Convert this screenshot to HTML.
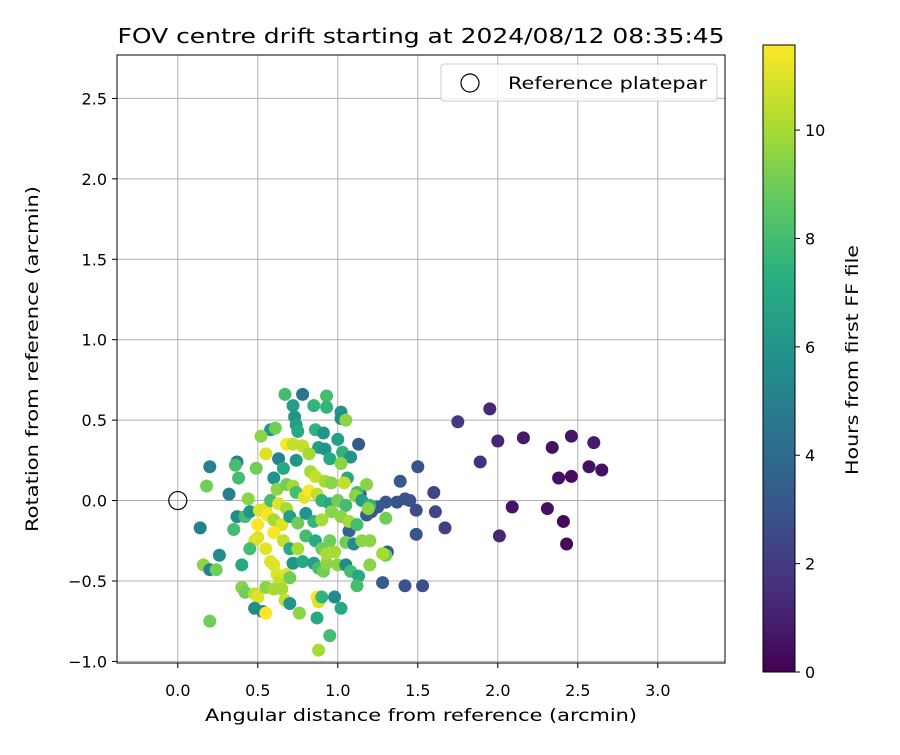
<!DOCTYPE html>
<html><head><meta charset="utf-8"><style>
html,body{margin:0;padding:0;background:#fff;}
svg text{font-family:"DejaVu Sans","Liberation Sans",sans-serif;fill:#000;}
</style></head><body>
<svg id="chart" width="900" height="750" xmlns="http://www.w3.org/2000/svg">
<defs>
<linearGradient id="vir" x1="0" y1="1" x2="0" y2="0">
<stop offset="0" stop-color="#440154"/><stop offset="0.125" stop-color="#472d7b"/><stop offset="0.25" stop-color="#3b528b"/><stop offset="0.375" stop-color="#2c728e"/><stop offset="0.5" stop-color="#21918c"/><stop offset="0.625" stop-color="#28ae80"/><stop offset="0.75" stop-color="#5ec962"/><stop offset="0.875" stop-color="#addc30"/><stop offset="1" stop-color="#fde725"/>
</linearGradient>
<clipPath id="clip"><rect x="117" y="55" width="608" height="608"/></clipPath>
</defs>
<text x="421" y="43" font-size="20" text-anchor="middle" textLength="607" lengthAdjust="spacingAndGlyphs">FOV centre drift starting at 2024/08/12 08:35:45</text>
<g id="grid"></g>
<g id="points" clip-path="url(#clip)"></g>
<rect x="117" y="55" width="608" height="608" fill="none" stroke="#000" stroke-width="1"/>
<g id="ticks"></g>
<text x="421" y="721" font-size="17" text-anchor="middle" textLength="432" lengthAdjust="spacingAndGlyphs">Angular distance from reference (arcmin)</text>
<text transform="translate(38,359) rotate(-90)" font-size="17" text-anchor="middle" textLength="346" lengthAdjust="spacingAndGlyphs">Rotation from reference (arcmin)</text>
<g>
<rect x="441" y="64" width="276" height="37" rx="3" fill="#fff" fill-opacity="0.8" stroke="#ccc"/>
<circle cx="470" cy="83" r="9" fill="none" stroke="#000" stroke-width="1.2"/>
<text x="508" y="89" font-size="17" textLength="199" lengthAdjust="spacingAndGlyphs">Reference platepar</text>
</g>
<rect x="763" y="45" width="32" height="627" fill="url(#vir)" stroke="#000" stroke-width="1"/>
<g id="cbticks"></g>
<text transform="translate(858,360) rotate(-90)" font-size="17" text-anchor="middle" textLength="230" lengthAdjust="spacingAndGlyphs">Hours from first FF file</text>
</svg>
<script>
const xTicks=[0.0,0.5,1.0,1.5,2.0,2.5,3.0];
const yTicks=[-1.0,-0.5,0.0,0.5,1.0,1.5,2.0,2.5];
const cbTicks=[0,2,4,6,8,10];
const xVals=[1.75,1.95,2.0,2.16,2.34,2.46,2.60,1.89,2.38,2.46,2.57,2.65,2.09,2.31,2.41,2.01,2.43,
1.5,1.39,1.6,1.67,1.61,1.49,1.45,1.42,1.37,1.3,1.25,1.21,1.18,1.49,1.53,1.42,1.28,1.31,1.13,1.14,1.07,
0.67,0.78,0.93,0.72,0.85,0.73,0.74,0.93,1.02,1.02,1.05,0.86,0.75,0.91,0.88,0.58,0.61,0.52,0.37,0.36,0.49,0.55,0.68,0.72,0.78,0.82,0.92,0.95,1.03,1.08,1.0,1.02,0.63,0.66,0.74,0.83,0.86,0.92,0.96,1.06,1.04,1.12,1.18,1.11,1.15,1.2,
0.2,0.14,0.18,0.32,0.38,0.37,0.42,0.44,0.45,0.51,0.55,0.58,0.6,0.62,0.68,0.72,0.74,0.79,0.82,0.87,0.9,0.95,1.0,1.05,0.63,0.68,0.56,0.5,0.6,0.65,0.7,0.75,0.8,0.85,0.9,0.96,1.02,1.07,1.12,1.19,1.3,0.48,0.6,0.55,0.66,0.7,0.75,0.8,0.86,0.9,0.95,0.98,1.05,1.1,1.15,1.2,0.5,
0.58,0.6,0.62,0.64,0.68,0.7,0.72,0.78,0.85,0.88,0.91,0.93,0.93,1.0,1.05,1.08,1.13,1.12,1.2,1.3,1.28,
0.16,0.2,0.24,0.26,0.4,0.42,0.48,0.5,0.48,0.53,0.55,0.55,0.6,0.65,0.67,0.7,0.76,0.87,0.88,0.87,0.9,0.98,1.02,0.95,0.88,0.2,0.35,0.45,0.4];
const yVals=[0.49,0.57,0.37,0.39,0.33,0.40,0.36,0.24,0.14,0.15,0.21,0.19,-0.04,-0.05,-0.13,-0.22,-0.27,
0.21,0.12,0.05,-0.17,-0.07,-0.06,0,0.01,-0.01,-0.01,-0.04,-0.07,-0.09,-0.21,-0.53,-0.53,-0.51,-0.32,0.35,0.04,-0.19,
0.66,0.66,0.65,0.59,0.59,0.52,0.47,0.58,0.55,0.51,0.5,0.44,0.43,0.42,0.33,0.44,0.45,0.40,0.24,0.22,0.20,0.29,0.35,0.35,0.34,0.29,0.32,0.26,0.3,0.27,0.38,0.23,0.26,0.2,0.25,0.18,0.15,0.12,0.11,0.14,0.11,0.05,0.1,0.03,0.0,-0.03,
0.21,-0.17,0.09,0.04,0.14,-0.1,-0.1,0.01,-0.07,-0.06,-0.05,0.0,0.14,0.07,0.1,0.09,0.05,0.02,0.06,0.04,0.0,-0.02,0.0,-0.03,-0.02,-0.05,-0.09,-0.15,-0.12,-0.15,-0.1,-0.14,-0.08,-0.13,-0.12,-0.07,-0.1,-0.13,-0.15,-0.05,-0.11,-0.25,-0.2,-0.3,-0.25,-0.3,-0.3,-0.22,-0.25,-0.3,-0.25,-0.32,-0.26,-0.27,-0.25,-0.25,-0.23,
-0.38,-0.4,-0.46,-0.5,-0.46,-0.48,-0.39,-0.38,-0.39,-0.42,-0.44,-0.39,-0.33,-0.4,-0.4,-0.44,-0.47,-0.53,-0.4,-0.34,-0.33,
-0.4,-0.43,-0.43,-0.34,-0.54,-0.57,-0.58,-0.6,-0.67,-0.69,-0.7,-0.54,-0.55,-0.55,-0.62,-0.64,-0.7,-0.6,-0.63,-0.73,-0.6,-0.6,-0.67,-0.84,-0.93,-0.75,-0.18,-0.3,-0.4];
const hours=[2,1.3,1.2,0.8,0.6,0.7,0.9,1.6,0.5,0.4,0.5,0.5,0.6,0.5,0.3,1.2,0.3,
3,3.2,2.4,2.2,2.5,2.6,2.8,2.9,3,3.2,3.2,3.3,3.4,3,2.7,3,3.3,3.5,3.2,3.3,3.6,
8,4.5,8,6.5,7.5,6,6.5,7.5,6,5.5,9.5,7.5,7,6,6.5,6,9,9.5,5,8,9,11,11.5,10.5,10.5,10,6,7,7.5,6,6.5,9.5,5,7,6,10,10.5,10,9.5,7,10.5,8,9.5,9.5,6.5,7.5,
5,5,9,5,8,5.5,8,9.5,6,11,11,8,6,9.5,9,10,8,11,11.5,10.5,7.5,7,9,8,11,10,11.5,11.5,10,11,6.5,9,6,7.5,10,9.5,9.5,10,8,9.5,9,11,11.5,11,10.5,7,10,8,7,9,9,10,9,5.5,9.5,9.5,11,
11,11,11,10.5,11,9,6,7,6.5,8,9,9.5,10,9.5,5.5,8,7,8,9.5,9,10,
9.5,5,9,5.5,9.5,9,10.5,11,5.5,5.5,11.5,9.5,10,10,10.5,6,9.5,11.5,11,7,7.5,5.5,7,8,10,9,8,8,7];
const X0=117,X1=725,Y0=55,Y1=663,XMIN=-0.38,XMAX=3.42,YMIN=-1.01,YMAX=2.77,HMAX=11.57;
const sx=v=>X0+(v-XMIN)/(XMAX-XMIN)*(X1-X0);
const sy=v=>Y1-(v-YMIN)/(YMAX-YMIN)*(Y1-Y0);
const sc=v=>672-v/HMAX*627;
const vir=[[68,1,84],[71,45,123],[59,82,139],[44,114,142],[33,145,140],[40,174,128],[94,201,98],[173,220,48],[253,231,37]];
function color(h){let t=Math.max(0,Math.min(1,h/HMAX))*8;let i=Math.min(7,Math.floor(t));let f=t-i;let a=vir[i],b=vir[i+1];return 'rgb('+a.map((c,k)=>Math.round(c+(b[k]-c)*f)).join(',')+')';}
const NS='http://www.w3.org/2000/svg';
function mk(tag,attrs,parent){const e=document.createElementNS(NS,tag);for(const k in attrs)e.setAttribute(k,attrs[k]);parent.appendChild(e);return e;}
const grid=document.getElementById('grid'),ticks=document.getElementById('ticks'),pts=document.getElementById('points'),cbt=document.getElementById('cbticks');
xTicks.forEach(v=>{const x=sx(v);
const g=mk('line',{x1:x,x2:x,y1:Y0,y2:Y1,stroke:'#b0b0b0','stroke-width':1},grid);


const t=mk('line',{x1:x,x2:x,y1:Y1,y2:Y1+5,stroke:'#000'},ticks);


const l=mk('text',{x:x,y:Y1+33,'font-size':16,'text-anchor':'middle'},ticks);l.textContent=v.toFixed(1);

});
yTicks.forEach(v=>{const y=sy(v);
const g=mk('line',{x1:X0,x2:X1,y1:y,y2:y,stroke:'#b0b0b0','stroke-width':1},grid);


const t=mk('line',{x1:X0-5,x2:X0,y1:y,y2:y,stroke:'#000'},ticks);


const l=mk('text',{x:X0-10,y:y+6,'font-size':16,'text-anchor':'end'},ticks);l.textContent=(v<0?'\u2212':'')+Math.abs(v).toFixed(1);

});
for(let i=0;i<xVals.length;i++){
const c=mk('circle',{cx:sx(xVals[i]),cy:sy(yVals[i]),r:6.5,fill:color(hours[i])},pts);

}
const ref=mk('circle',{cx:sx(0),cy:sy(0),r:9,fill:'none',stroke:'#000','stroke-width':1.2},pts);


cbTicks.forEach(v=>{const y=sc(v);
const t=mk('line',{x1:795,x2:800,y1:y,y2:y,stroke:'#000'},cbt);


const l=mk('text',{x:805,y:y+6,'font-size':16},cbt);l.textContent=v;

});
</script>
</body></html>
